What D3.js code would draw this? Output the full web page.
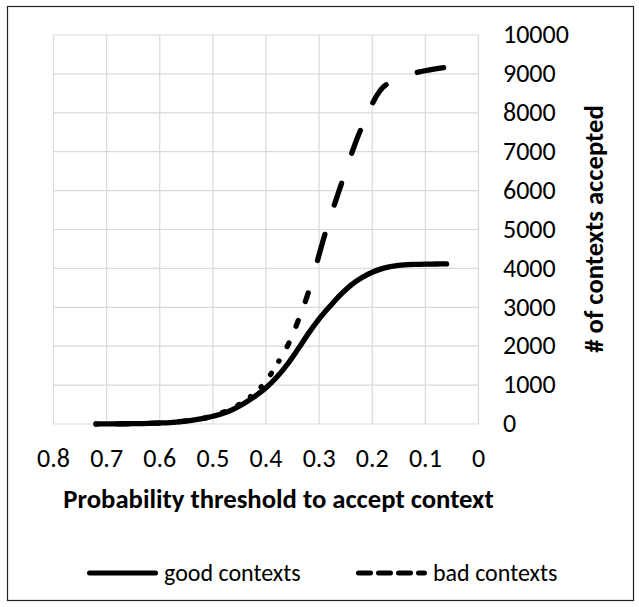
<!DOCTYPE html>
<html>
<head>
<meta charset="utf-8">
<script src="https://cdn.jsdelivr.net/npm/d3@7"></script>
<style>
  html, body { margin: 0; padding: 0; background: #fff; }
  svg { display: block; }
  text { font-family: Calibri, Carlito, Lato, sans-serif; fill: #000; }
</style>
</head>
<body>
<svg id="chart" width="639" height="607"></svg>
<script>
// ---- data ----
const xTicks = [0.8, 0.7, 0.6, 0.5, 0.4, 0.3, 0.2, 0.1, 0];
const yTicks = [0, 1000, 2000, 3000, 4000, 5000, 6000, 7000, 8000, 9000, 10000];

const goodThresholds = [0.72, 0.70, 0.68, 0.66, 0.64, 0.62, 0.60, 0.58, 0.56, 0.54, 0.52, 0.50, 0.48, 0.46, 0.44, 0.42, 0.40, 0.38, 0.36, 0.34, 0.32, 0.30, 0.28, 0.26, 0.24, 0.22, 0.20, 0.18, 0.16, 0.14, 0.12, 0.10, 0.08, 0.06];
const goodValues     = [0, 2, 4, 7, 10, 15, 25, 38, 60, 95, 140, 200, 275, 390, 540, 720, 930, 1200, 1530, 1920, 2330, 2700, 3020, 3320, 3570, 3760, 3900, 4000, 4060, 4090, 4103, 4110, 4113, 4115];

const badThresholds = [0.72, 0.66, 0.60, 0.55, 0.51, 0.478, 0.451, 0.4293, 0.4086, 0.3898, 0.3755, 0.3569, 0.3394, 0.3206, 0.2892, 0.2578, 0.2224, 0.174, 0.0655];
const badValues     = [0, 8, 28, 80, 170, 316, 500, 702, 959, 1303, 1620, 2082, 2658, 3368, 4874, 6188, 7543, 8720, 9160];

const seriesNames = ["good contexts", "bad contexts"];
const xTitle = "Probability threshold to accept context";
const yTitle = "# of contexts accepted";

// ---- scales ----
const svg = d3.select("#chart");
const x = d3.scaleLinear().domain([0.8, 0]).range([53.5, 478.5]);
const y = d3.scaleLinear().domain([0, 10000]).range([424, 35]);

// outer frame
svg.append("rect").attr("x", 7.5).attr("y", 6.5).attr("width", 626).attr("height", 594)
  .attr("fill", "none").attr("stroke", "#222").attr("stroke-width", 1.2);

// gridlines
const grid = svg.append("g").attr("stroke", "#d9d9d9").attr("stroke-width", 1.2);
grid.selectAll("line.v").data(xTicks).join("line")
  .attr("x1", d => x(d)).attr("x2", d => x(d)).attr("y1", y(0)).attr("y2", y(10000));
grid.selectAll("line.h").data(yTicks).join("line")
  .attr("x1", x(0.8)).attr("x2", x(0)).attr("y1", d => y(d)).attr("y2", d => y(d));

// axes labels
svg.append("g").selectAll("text").data(xTicks).join("text")
  .attr("x", d => x(d)).attr("y", 466.5).attr("text-anchor", "middle")
  .attr("font-size", 26).text(d => d3.format("")(d));
svg.append("g").selectAll("text").data(yTicks).join("text")
  .attr("x", 503).attr("y", d => y(d) + 8.2).attr("text-anchor", "start")
  .attr("font-size", 26).text(d => d);

svg.append("text").attr("x", 278.5).attr("y", 507.5).attr("text-anchor", "middle")
  .attr("font-size", 26.7).attr("font-weight", "bold").text(xTitle);
svg.append("text").attr("transform", "translate(603,229) rotate(-90)").attr("text-anchor", "middle")
  .attr("font-size", 26.7).attr("font-weight", "bold").text(yTitle);

// good series (solid, smoothed)
const goodData = goodThresholds.map((t, i) => [t, goodValues[i]]);
const line = d3.line().x(d => x(d[0])).y(d => y(d[1])).curve(d3.curveMonotoneX);
svg.append("path").attr("d", line(goodData)).attr("fill", "none")
  .attr("stroke", "#000").attr("stroke-width", 5.3).attr("stroke-linecap", "round").attr("stroke-linejoin", "round");

// bad series (smoothed, dashed; dash pattern restarts per data segment, dash at segment end)
const badData = badThresholds.map((t, i) => [t, badValues[i]]);
const badPath = svg.append("path").attr("d", line(badData)).attr("fill", "none")
  .attr("stroke", "#000").attr("stroke-width", 5.3).attr("stroke-linecap", "round");
const node = badPath.node();
const total = node.getTotalLength();
function lengthAtX(px) {
  let lo = 0, hi = total;
  for (let k = 0; k < 40; k++) {
    const mid = (lo + hi) / 2;
    if (node.getPointAtLength(mid).x < px) lo = mid; else hi = mid;
  }
  return (lo + hi) / 2;
}
const cum = badData.map((d, i) => i === 0 ? 0 : (i === badData.length - 1 ? total : lengthAtX(x(d[0]))));
const dashes = [0.01];
for (let i = 0; i < cum.length - 1; i++) {
  const L = cum[i+1] - cum[i];
  const core = Math.min(L - 0.02, Math.max(0.01, 0.58 * (L - 14)));
  dashes.push(L - core - (i === 0 ? 0.01 : 0), core);
}
dashes.push(5000);
badPath.attr("stroke-dasharray", dashes.join(","));

// legend
const lg = svg.append("g");
lg.append("line").attr("x1", 89.5).attr("x2", 155.5).attr("y1", 573).attr("y2", 573)
  .attr("stroke", "#000").attr("stroke-width", 5).attr("stroke-linecap", "round");
lg.append("text").attr("x", 164).attr("y", 581).attr("font-size", 24).text(seriesNames[0]);
lg.append("line").attr("x1", 358.5).attr("x2", 424.5).attr("y1", 573).attr("y2", 573)
  .attr("stroke", "#000").attr("stroke-width", 5).attr("stroke-linecap", "round")
  .attr("stroke-dasharray", "12,8");
lg.append("text").attr("x", 433).attr("y", 581).attr("font-size", 24).text(seriesNames[1]);
</script>
</body>
</html>
